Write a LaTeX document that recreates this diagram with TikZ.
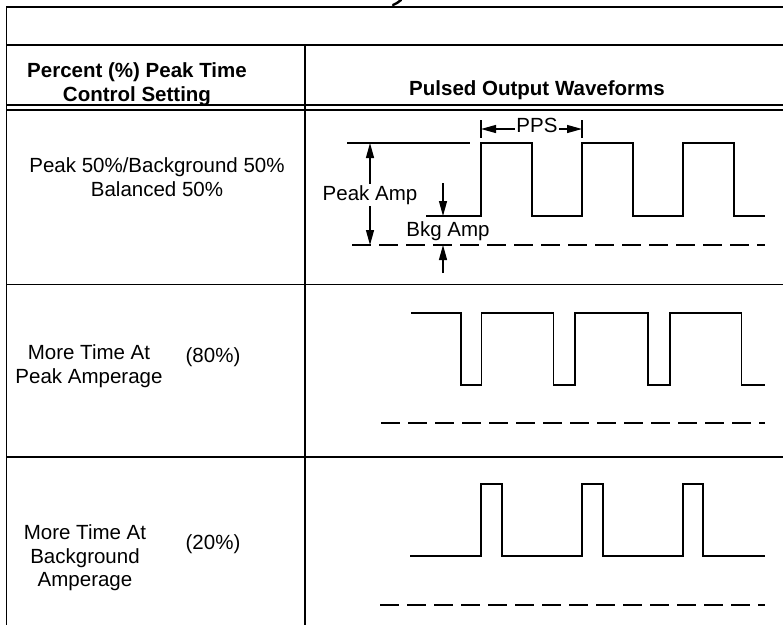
\documentclass[tikz,border=0pt]{standalone}
\usepackage{fontspec}
\setmainfont{Liberation Sans}
\usetikzlibrary{arrows.meta,positioning}

\begin{document}
\begin{tikzpicture}[x=1pt, y=-1pt,
  rule/.style={line width=1.8pt},
  wave/.style={line width=1.3pt, line join=miter},
  base/.style={line width=1.3pt, dash pattern=on 19pt off 8pt},
  lbl/.style={inner sep=0pt, align=center, font=\fontsize{20.5}{23.5}\selectfont},
  hdr/.style={lbl, font=\fontsize{20.5}{23.5}\selectfont\bfseries},
  dimarr/.style={-{Triangle[length=15pt, width=8pt]}, line width=1.2pt}
]
\useasboundingbox (0,0) rectangle (783,625);

% table rules
\draw[rule] (783,7) -- (6.5,7) -- (6.5,625);
\draw[rule] (6.5,45) -- (783,45);
\draw[rule] (6.5,105) -- (783,105);
\draw[rule] (6.5,110) -- (783,110);
\draw[rule] (6.5,284.5) -- (783,284.5);
\draw[rule] (6.5,457) -- (783,457);
\draw[rule] (305,45) -- (305,625);
\draw[line width=2.4pt, line cap=round] (401,0) .. controls (398,2.5) .. (393,5);

% headings
\node[hdr] (colset) at (137,84) {Percent (\%) Peak Time\\Control Setting};
\node[hdr] (colwave) at (537,90) {Pulsed Output Waveforms};

% settings column
\node[lbl] (setbal) at (157,177) {Peak 50\%/Background 50\%\\Balanced 50\%};
\node[lbl] (setpeak) at (89,366) {More Time At\\Peak Amperage};
\node[lbl] (pctpeak) at (213,357) {(80\%)};
\node[lbl] (setbkg) at (85,558) {More Time At\\Background\\Amperage};
\node[lbl] (pctbkg) at (213,544) {(20\%)};

% balanced waveform
\draw[wave] (426,216) -| (481,143) -| (532,216) -| (582,143) -| (633,216) -| (683,143) -| (734,216) -- (765,216);
\draw[wave] (347,143) -- (470,143);
\draw[base] (352,245) -- (765,245);

\node[lbl, inner sep=1.5pt] (pps) at (537,125) {PPS};
\coordinate (ppsL) at (481,129);
\coordinate (ppsR) at (582,129);
\draw[wave] (481,120) -- (481,138);
\draw[wave] (582,120) -- (582,138);
\draw[dimarr] (pps.west |- ppsL) -- (ppsL);
\draw[dimarr] (pps.east |- ppsR) -- (ppsR);

\node[lbl, inner sep=1.5pt] (pkamp) at (370,195) {Peak Amp};
\coordinate (pktop) at (370,143);
\coordinate (pkbot) at (370,245);
\draw[dimarr] (pkamp) -- (pktop);
\draw[dimarr] (pkamp) -- (pkbot);

\node[lbl] (bkgamp) at (448,231) {Bkg Amp};
\coordinate (bkgfrom) at (443,183);
\coordinate (bkgto) at (443,216);
\coordinate (bkgup) at (443,273);
\coordinate (bkgzero) at (443,245);
\draw[dimarr] (bkgfrom) -- (bkgto);
\draw[dimarr] (bkgup) -- (bkgzero);

% more time at peak
\draw[wave] (411,313) -| (461,385) -| (481.5,313) -| (553.5,385) -| (575,313) -| (648,385) -| (670,313) -| (741.5,385) -- (765,385);
\draw[base] (381,423) -- (765,423);

% more time at background
\draw[wave] (410,556) -| (481,484) -| (502,556) -| (582,484) -| (603,556) -| (683,484) -| (703,556) -- (765,556);
\draw[base] (380,605) -- (765,605);
\end{tikzpicture}
\end{document}
